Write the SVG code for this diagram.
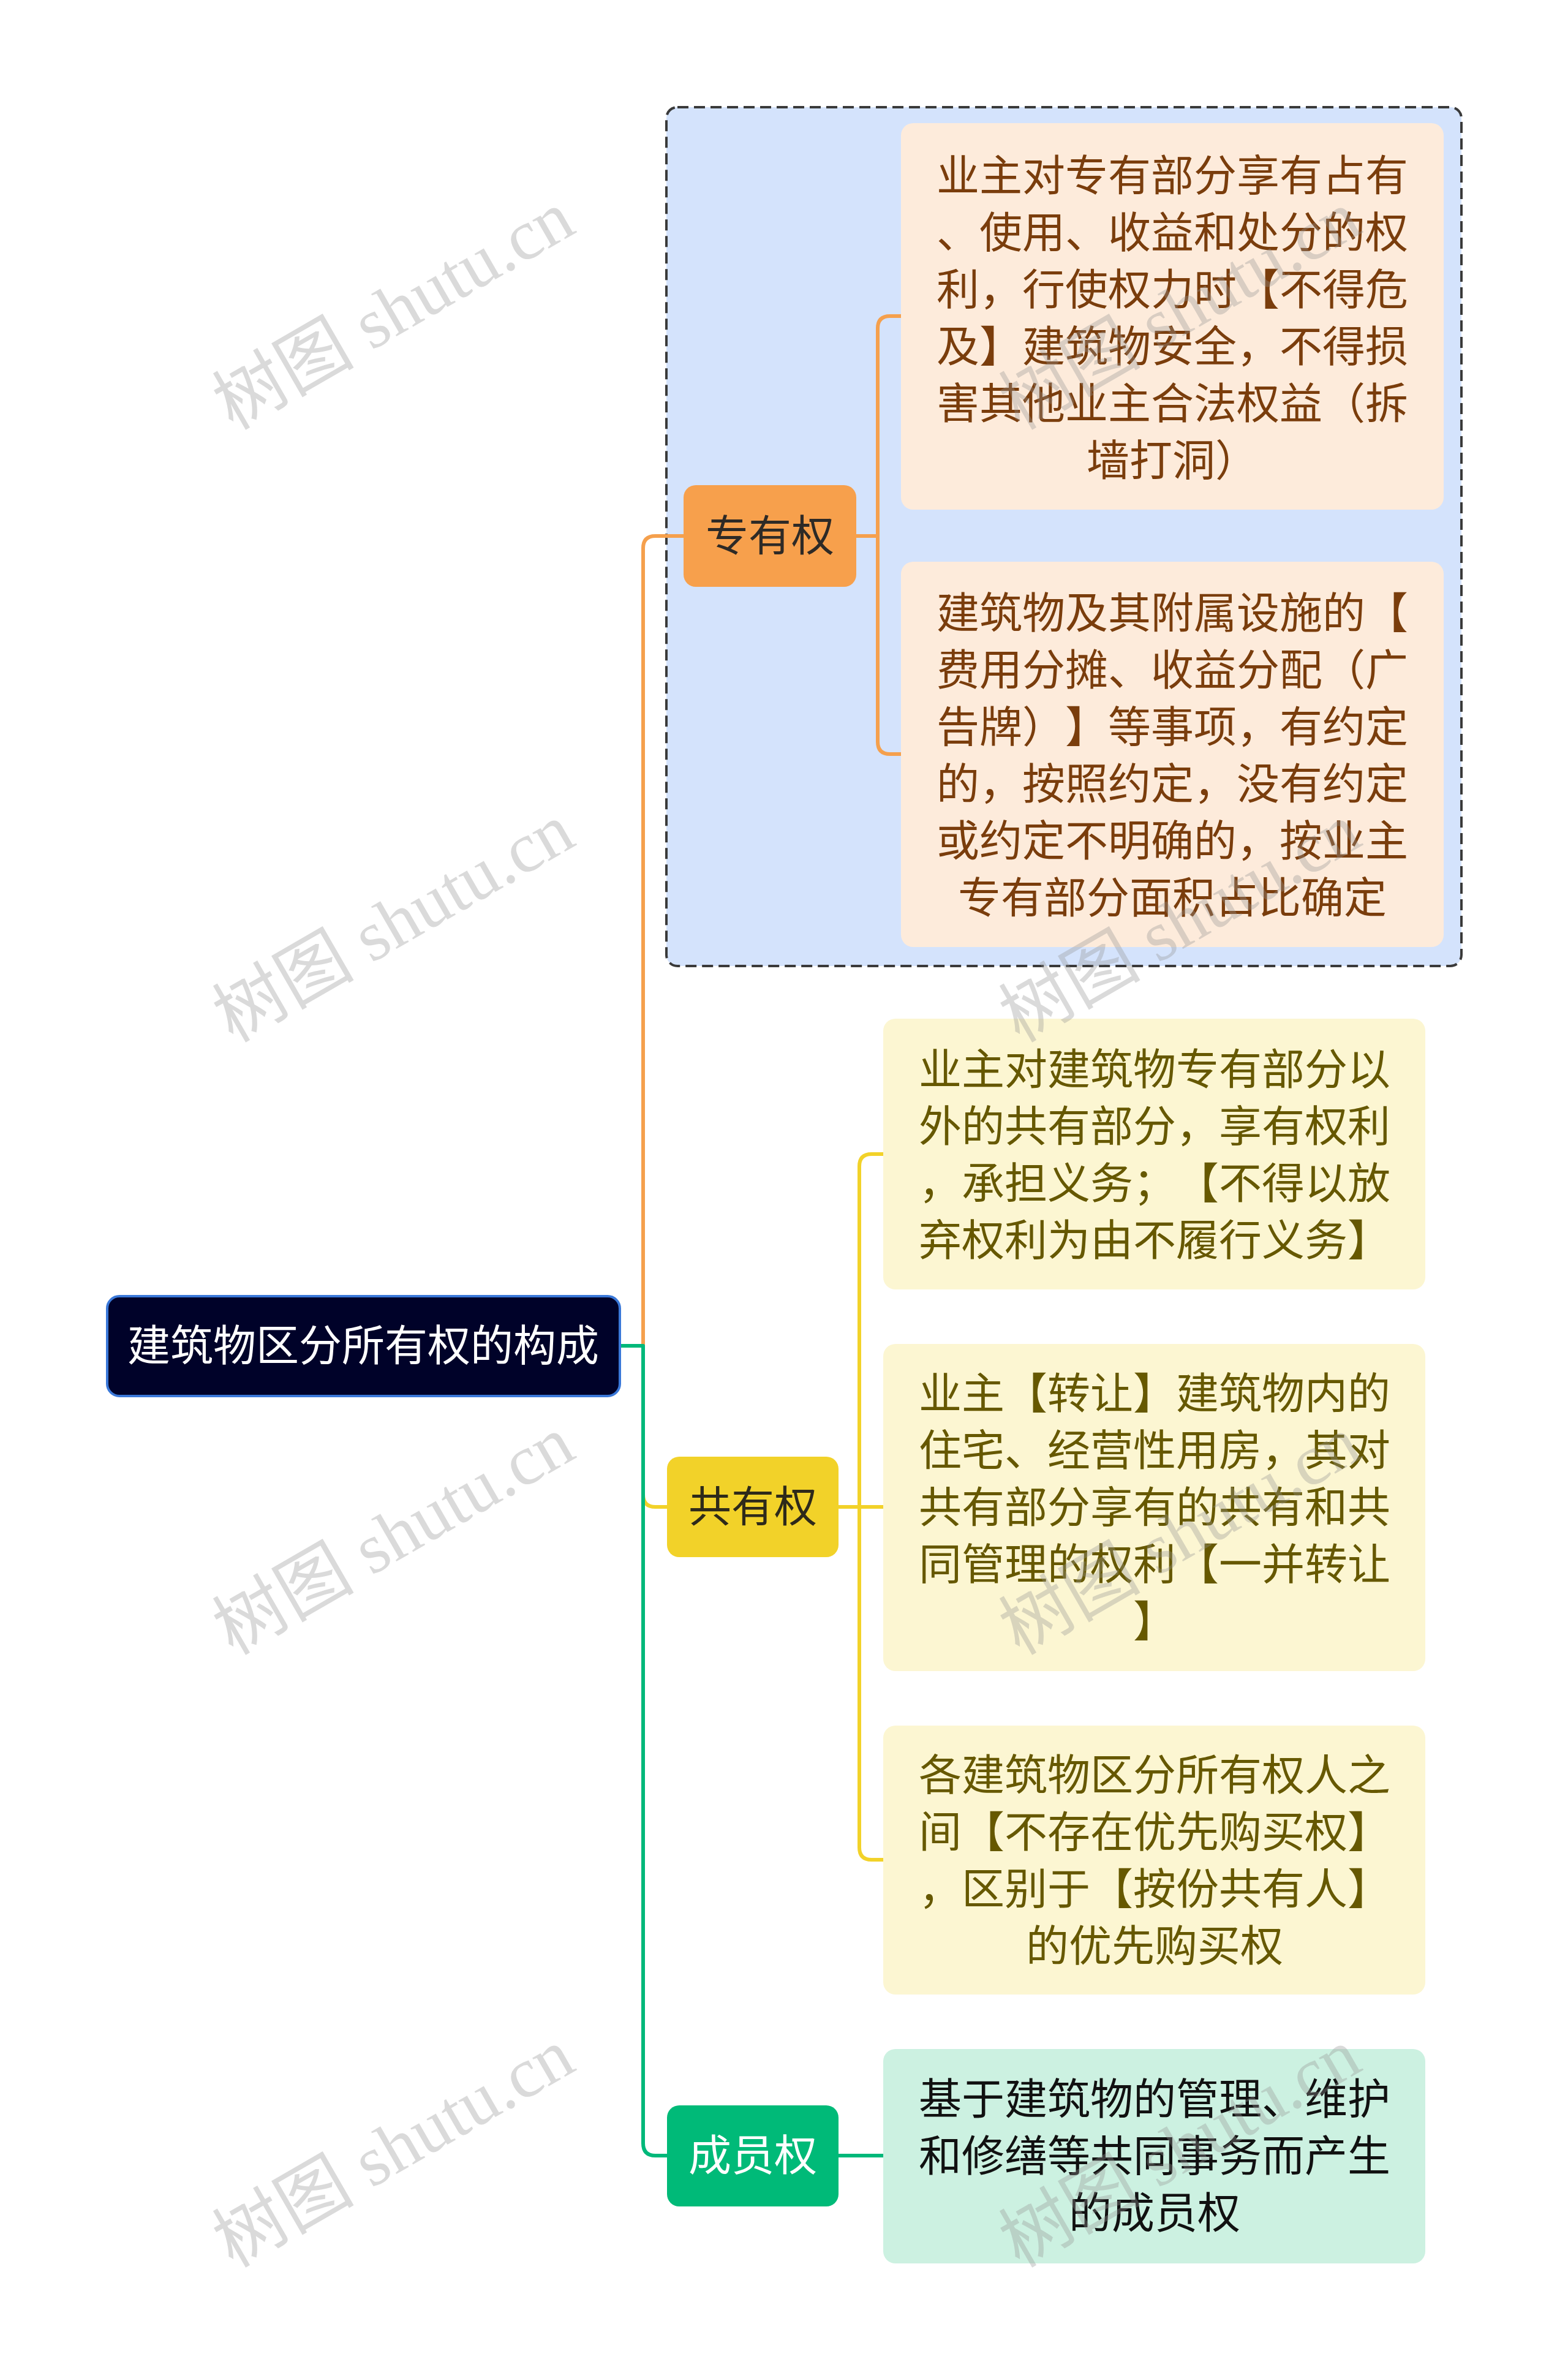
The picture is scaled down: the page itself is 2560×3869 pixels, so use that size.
<svg xmlns="http://www.w3.org/2000/svg" width="2560" height="3869" viewBox="0 0 2560 3869">
<style>
.t{font-family:"Noto Sans CJK SC","Noto Sans",sans-serif;font-size:70px;text-anchor:middle;text-spacing-trim:space-all;font-feature-settings:"chws" 0,"halt" 0}
.wm{font-family:"Liberation Serif","Noto Sans CJK SC",serif;font-size:116px;fill:#969696;fill-opacity:0.35;text-anchor:middle}
.c{fill:none;stroke-width:6;stroke-linecap:round;stroke-linejoin:round}
</style>
<rect width="2560" height="3869" fill="#ffffff"/>
<g id="summary-box">
<rect x="1088" y="175" width="1298" height="1402" rx="18" fill="#D4E3FC" stroke="#3a3a3a" stroke-width="4" stroke-dasharray="18 9"/>
</g>
<g id="connectors">
<path class="c" stroke="#F2D229" d="M1012,2197 H1050 V2440 Q1050,2460 1070,2460 H1089"/>
<path class="c" stroke="#F5A04D" d="M1012,2197 H1050 V895 Q1050,875 1070,875 H1116"/>
<path class="c" stroke="#00B87A" d="M1012,2197 H1050 V3499 Q1050,3519 1070,3519 H1089"/>
<path class="c" stroke="#F5A04D" d="M1398,875 H1433 M1471,516 H1453 Q1433,516 1433,536 V1211 Q1433,1231 1453,1231 H1471"/>
<path class="c" stroke="#F2D229" d="M1369,2460 H1442 M1442,1884 H1423 Q1403,1884 1403,1904 V3016 Q1403,3036 1423,3036 H1442"/>
<path class="c" stroke="#00B87A" d="M1369,3519 H1442"/>
</g>
<g id="root">
<rect x="175" y="2116" width="837" height="163" rx="20" fill="#000229" stroke="#3A78D8" stroke-width="4"/>
<text class="t" x="593" y="2222" fill="#ffffff">建筑物区分所有权的构成</text>
</g>
<g id="zhuanyouquan">
<rect x="1116" y="792" width="282" height="166" rx="20" fill="#F7A04C"/>
<text class="t" x="1257" y="900" fill="#2e2a26">专有权</text>
</g>
<g id="zhuanyou-leaf1">
<rect x="1471" y="201" width="886" height="631" rx="20" fill="#FDEBDB"/>
<text class="t" fill="#7A3D0C"><tspan x="1914" y="312">业主对专有部分享有占有</tspan><tspan x="1914" y="405">、使用、收益和处分的权</tspan><tspan x="1914" y="498">利，行使权力时【不得危</tspan><tspan x="1914" y="591">及】建筑物安全，不得损</tspan><tspan x="1914" y="684">害其他业主合法权益（拆</tspan><tspan x="1914" y="777">墙打洞）</tspan></text>
</g>
<g id="zhuanyou-leaf2">
<rect x="1471" y="917" width="886" height="629" rx="20" fill="#FDEBDB"/>
<text class="t" fill="#7A3D0C"><tspan x="1914" y="1026">建筑物及其附属设施的【</tspan><tspan x="1914" y="1119">费用分摊、收益分配（广</tspan><tspan x="1914" y="1212">告牌）】等事项，有约定</tspan><tspan x="1914" y="1305">的，按照约定，没有约定</tspan><tspan x="1914" y="1398">或约定不明确的，按业主</tspan><tspan x="1914" y="1491">专有部分面积占比确定</tspan></text>
</g>
<g id="gongyouquan">
<rect x="1089" y="2378" width="280" height="164" rx="20" fill="#F2D229"/>
<text class="t" x="1229" y="2485" fill="#2e2a1a">共有权</text>
</g>
<g id="gongyou-leaf1">
<rect x="1442" y="1663" width="885" height="442" rx="20" fill="#FCF6D2"/>
<text class="t" fill="#665800"><tspan x="1885" y="1771">业主对建筑物专有部分以</tspan><tspan x="1885" y="1864">外的共有部分，享有权利</tspan><tspan x="1885" y="1957">，承担义务；【不得以放</tspan><tspan x="1885" y="2050">弃权利为由不履行义务】</tspan></text>
</g>
<g id="gongyou-leaf2">
<rect x="1442" y="2194" width="885" height="534" rx="20" fill="#FCF6D2"/>
<text class="t" fill="#665800"><tspan x="1885" y="2300">业主【转让】建筑物内的</tspan><tspan x="1885" y="2393">住宅、经营性用房，其对</tspan><tspan x="1885" y="2486">共有部分享有的共有和共</tspan><tspan x="1885" y="2579">同管理的权利【一并转让</tspan><tspan x="1885" y="2672">】</tspan></text>
</g>
<g id="gongyou-leaf3">
<rect x="1442" y="2817" width="885" height="439" rx="20" fill="#FCF6D2"/>
<text class="t" fill="#665800"><tspan x="1885" y="2923">各建筑物区分所有权人之</tspan><tspan x="1885" y="3016">间【不存在优先购买权】</tspan><tspan x="1885" y="3109">，区别于【按份共有人】</tspan><tspan x="1885" y="3202">的优先购买权</tspan></text>
</g>
<g id="chengyuanquan">
<rect x="1089" y="3437" width="280" height="165" rx="20" fill="#00BA78"/>
<text class="t" x="1229" y="3544" fill="#ffffff">成员权</text>
</g>
<g id="chengyuan-leaf">
<rect x="1442" y="3345" width="885" height="350" rx="20" fill="#CCF1E1"/>
<text class="t" fill="#111111"><tspan x="1885" y="3452">基于建筑物的管理、维护</tspan><tspan x="1885" y="3545">和修缮等共同事务而产生</tspan><tspan x="1885" y="3638">的成员权</tspan></text>
</g>
<g id="watermarks">
<text class="wm" transform="translate(642,506) rotate(-30)" y="40">树图 shutu.cn</text>
<text class="wm" transform="translate(642,1506) rotate(-30)" y="40">树图 shutu.cn</text>
<text class="wm" transform="translate(642,2506) rotate(-30)" y="40">树图 shutu.cn</text>
<text class="wm" transform="translate(642,3506) rotate(-30)" y="40">树图 shutu.cn</text>
<text class="wm" transform="translate(1926,506) rotate(-30)" y="40">树图 shutu.cn</text>
<text class="wm" transform="translate(1926,1506) rotate(-30)" y="40">树图 shutu.cn</text>
<text class="wm" transform="translate(1926,2506) rotate(-30)" y="40">树图 shutu.cn</text>
<text class="wm" transform="translate(1926,3506) rotate(-30)" y="40">树图 shutu.cn</text>
</g>
</svg>
